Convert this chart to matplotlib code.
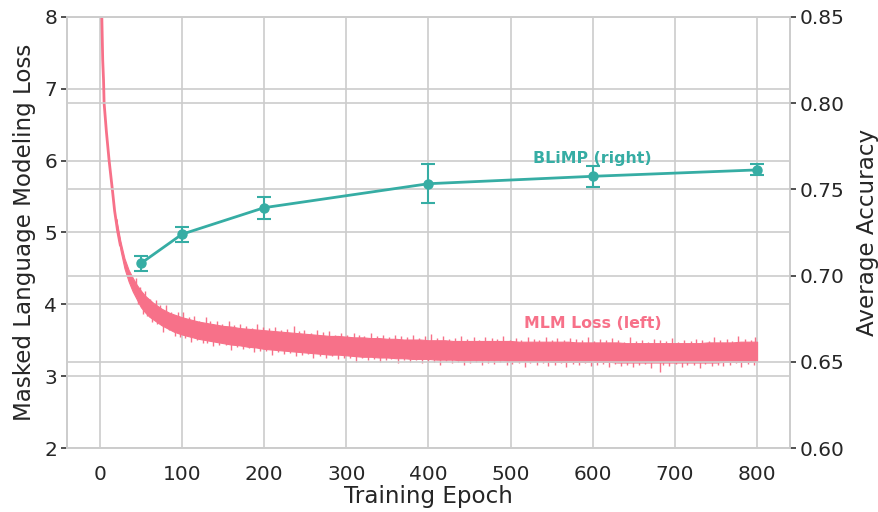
import matplotlib
matplotlib.use("Agg")
import matplotlib.pyplot as plt
import numpy as np
import seaborn as sns

sns.set_theme(style="whitegrid")
plt.rcParams['font.family'] = ['DejaVu Sans']

PINK = "#f77189"
TEAL = "#36ada4"

# MLM loss: early (thin) part of curve
early_epochs = [1.0, 2.4, 3.5, 4.5, 5.2, 8.0, 11.3, 15.4, 18.0, 21.5, 25.0]
early_loss = [10.0, 8.0, 7.4, 7.12, 6.8, 6.4, 6.0, 5.58, 5.3, 5.03, 4.82]

# MLM loss: dense noisy band (upper / lower envelope)
band_epochs = [20, 25, 30, 35, 40, 45, 50, 55, 60, 65, 70, 75, 80, 85, 90, 95, 100,
               110, 120, 130, 140, 150, 160, 170, 180, 190, 200,
               210, 220, 230, 240, 250, 260, 270, 280, 290, 300,
               310, 320, 330, 340, 350, 360, 370, 380, 390, 400,
               410, 420, 430, 440, 450, 460, 470, 480, 490, 500,
               510, 520, 530, 540, 550, 560, 570, 580, 590, 600,
               610, 620, 630, 640, 650, 660, 670, 680, 690, 700,
               710, 720, 730, 740, 750, 760, 770, 780, 790, 800]
band_upper = [5.19, 4.88, 4.64, 4.48, 4.37, 4.27, 4.19, 4.12, 4.07, 4.02, 3.98, 3.94, 3.91, 3.88, 3.86, 3.84, 3.82,
              3.79, 3.76, 3.74, 3.72, 3.70, 3.69, 3.67, 3.66, 3.65, 3.64,
              3.63, 3.62, 3.61, 3.60, 3.59, 3.58, 3.57, 3.56, 3.56, 3.55,
              3.54, 3.54, 3.53, 3.53, 3.52, 3.52, 3.51, 3.51, 3.51, 3.50,
              3.50, 3.50, 3.49, 3.49, 3.49, 3.49, 3.49, 3.49, 3.49, 3.49,
              3.48, 3.48, 3.48, 3.48, 3.48, 3.48, 3.48, 3.47, 3.47, 3.47,
              3.47, 3.47, 3.47, 3.46, 3.46, 3.46, 3.46, 3.46, 3.46, 3.46,
              3.46, 3.46, 3.46, 3.47, 3.47, 3.47, 3.47, 3.48, 3.48, 3.48]
band_lower = [5.11, 4.76, 4.50, 4.32, 4.18, 4.07, 3.96, 3.89, 3.83, 3.79, 3.75, 3.71, 3.68, 3.65, 3.62, 3.60, 3.58,
              3.55, 3.52, 3.50, 3.48, 3.46, 3.44, 3.43, 3.41, 3.40, 3.38,
              3.37, 3.36, 3.35, 3.34, 3.33, 3.32, 3.31, 3.30, 3.30, 3.29,
              3.28, 3.27, 3.27, 3.26, 3.26, 3.25, 3.25, 3.24, 3.24, 3.24,
              3.23, 3.23, 3.23, 3.22, 3.22, 3.22, 3.22, 3.22, 3.22, 3.21,
              3.21, 3.21, 3.21, 3.21, 3.20, 3.20, 3.20, 3.20, 3.20, 3.20,
              3.20, 3.20, 3.19, 3.19, 3.19, 3.19, 3.19, 3.19, 3.19, 3.19,
              3.19, 3.19, 3.19, 3.19, 3.19, 3.20, 3.20, 3.20, 3.20, 3.21]

# spikes poking out of the band: epoch and how far they reach beyond the band edge
up_epochs = [44, 49, 55, 61, 68, 73, 81, 87, 95, 101,
             108, 114, 121, 129, 134, 142, 149, 157, 163, 170,
             178, 185, 191, 199, 206, 213, 221, 228, 236, 243,
             249, 257, 264, 272, 279, 286, 293, 301, 309, 315,
             322, 330, 337, 345, 352, 359, 366, 374, 381, 388,
             396, 403, 410, 418, 425, 432, 440, 447, 455, 462,
             469, 477, 484, 491, 499, 506, 513, 521, 528, 535,
             543, 550, 557, 565, 572, 579, 587, 594, 601, 609,
             616, 623, 631, 638, 645, 653, 660, 667, 675, 682,
             689, 697, 704, 711, 719, 726, 733, 741, 748, 755,
             763, 770, 777, 785, 792, 798]
up_excess = [0.08, 0.03, 0.06, 0.02, 0.07, 0.04, 0.09, 0.02, 0.05, 0.07,
             0.03, 0.06, 0.01, 0.08, 0.04, 0.05, 0.02, 0.07, 0.03, 0.06,
             0.04, 0.02, 0.08, 0.05, 0.03, 0.06, 0.02, 0.04, 0.09, 0.03,
             0.05, 0.02, 0.06, 0.04, 0.07, 0.02, 0.05, 0.03, 0.06, 0.04,
             0.02, 0.07, 0.03, 0.05, 0.02, 0.06, 0.04, 0.03, 0.07, 0.02,
             0.05, 0.09, 0.03, 0.06, 0.02, 0.04, 0.07, 0.03, 0.05, 0.02,
             0.06, 0.04, 0.03, 0.07, 0.02, 0.05, 0.03, 0.06, 0.04, 0.02,
             0.07, 0.03, 0.05, 0.02, 0.06, 0.04, 0.03, 0.07, 0.02, 0.05,
             0.03, 0.06, 0.04, 0.02, 0.08, 0.03, 0.05, 0.02, 0.06, 0.04,
             0.03, 0.07, 0.02, 0.05, 0.03, 0.06, 0.04, 0.02, 0.07, 0.03,
             0.05, 0.02, 0.08, 0.04, 0.03, 0.06]
down_epochs = [46, 52, 58, 64, 70, 77, 84, 91, 98, 104,
               111, 118, 125, 131, 138, 145, 153, 160, 167, 174,
               181, 188, 195, 202, 210, 217, 224, 232, 239, 246,
               253, 260, 268, 275, 282, 290, 297, 305, 312, 319,
               326, 334, 341, 348, 355, 363, 370, 378, 385, 392,
               399, 407, 414, 421, 429, 436, 443, 451, 458, 465,
               473, 480, 487, 495, 502, 510, 517, 524, 532, 539,
               546, 554, 561, 568, 576, 583, 590, 598, 605, 612,
               620, 627, 634, 642, 649, 656, 664, 671, 682, 686,
               693, 701, 708, 715, 723, 730, 737, 745, 752, 759,
               767, 774, 781, 789, 796]
down_excess = [0.04, 0.07, 0.02, 0.05, 0.03, 0.08, 0.02, 0.06, 0.04, 0.03,
               0.07, 0.02, 0.05, 0.03, 0.06, 0.04, 0.02, 0.08, 0.03, 0.05,
               0.02, 0.06, 0.04, 0.03, 0.07, 0.02, 0.05, 0.03, 0.06, 0.04,
               0.02, 0.07, 0.03, 0.05, 0.02, 0.06, 0.04, 0.03, 0.08, 0.02,
               0.05, 0.03, 0.06, 0.04, 0.02, 0.07, 0.03, 0.05, 0.02, 0.06,
               0.04, 0.03, 0.07, 0.02, 0.05, 0.03, 0.06, 0.04, 0.02, 0.07,
               0.03, 0.05, 0.02, 0.06, 0.04, 0.03, 0.08, 0.02, 0.05, 0.03,
               0.06, 0.04, 0.02, 0.07, 0.03, 0.05, 0.02, 0.06, 0.04, 0.03,
               0.07, 0.02, 0.05, 0.03, 0.06, 0.04, 0.02, 0.07, 0.13, 0.03,
               0.05, 0.02, 0.06, 0.04, 0.03, 0.07, 0.02, 0.05, 0.03, 0.06,
               0.04, 0.02, 0.07, 0.03, 0.05]

# BLiMP accuracy
blimp_epochs = [50, 100, 200, 400, 600, 800]
blimp_acc = [0.7071, 0.7240, 0.7394, 0.7533, 0.7576, 0.7613]
blimp_err = [0.0044, 0.0044, 0.0063, 0.0113, 0.0060, 0.0032]

fig = plt.figure(figsize=(8.79, 5.12), dpi=100)
ax1 = fig.add_axes([0.0762, 0.125, 0.8225, 0.8418])
ax2 = ax1.twinx()

band_mid = (np.array(band_upper) + np.array(band_lower)) / 2
ax1.plot(early_epochs, early_loss, color=PINK, lw=2, zorder=3)
ax1.fill_between(band_epochs, band_lower, band_upper, color=PINK, lw=0.8,
                 edgecolor=PINK, zorder=3)
up_top = np.interp(up_epochs, band_epochs, band_upper) + np.array(up_excess)
ax1.vlines(up_epochs, np.interp(up_epochs, band_epochs, band_mid), up_top,
           color=PINK, lw=1.0, zorder=3)
down_bot = np.interp(down_epochs, band_epochs, band_lower) - np.array(down_excess)
ax1.vlines(down_epochs, down_bot, np.interp(down_epochs, band_epochs, band_mid),
           color=PINK, lw=1.0, zorder=3)

ax2.errorbar(blimp_epochs, blimp_acc, yerr=blimp_err, color=TEAL, lw=2,
             marker='o', markersize=6.5, capsize=5, capthick=1.5, elinewidth=1.5,
             zorder=4)

ax1.set_xlim(-40, 840)
ax1.set_ylim(2, 8)
ax2.set_ylim(0.60, 0.85)
ax1.set_xticks(range(0, 801, 100))
ax1.set_yticks(range(2, 9))
ax2.set_yticks([0.60, 0.65, 0.70, 0.75, 0.80, 0.85])
ax2.set_yticklabels(["0.60", "0.65", "0.70", "0.75", "0.80", "0.85"])

for ax in (ax1, ax2):
    ax.grid(True, color="0.8", lw=1.2)
    ax.set_axisbelow(True)
    for s in ax.spines.values():
        s.set_color("0.8")
        s.set_linewidth(1.2)
ax1.grid(True, axis='x', color="0.8", lw=1.2)
ax2.grid(False, axis='x')

ax1.tick_params(axis='y', which='major', left=True, length=4, width=1.2,
                color="0.2", labelsize=14.5, pad=3)
ax1.tick_params(axis='x', labelsize=14.5, bottom=False, pad=6)
ax2.tick_params(axis='y', which='major', right=True, length=4, width=1.2,
                color="0.2", labelsize=14.5, pad=3)

ax1.set_xlabel("Training Epoch", fontsize=16.6, labelpad=1)
ax1.set_ylabel("Masked Language Modeling Loss", fontsize=16.6, labelpad=6)
ax2.set_ylabel("Average Accuracy", fontsize=16.6, labelpad=8)

ax2.text(600, 0.768, "BLiMP (right)", color=TEAL, fontsize=11.3, fontweight='bold',
         ha='center', va='center', zorder=5)
ax1.text(600, 3.74, "MLM Loss (left)", color=PINK, fontsize=11.3, fontweight='bold',
         ha='center', va='center', zorder=5)

fig.savefig("out.png", dpi=100)
